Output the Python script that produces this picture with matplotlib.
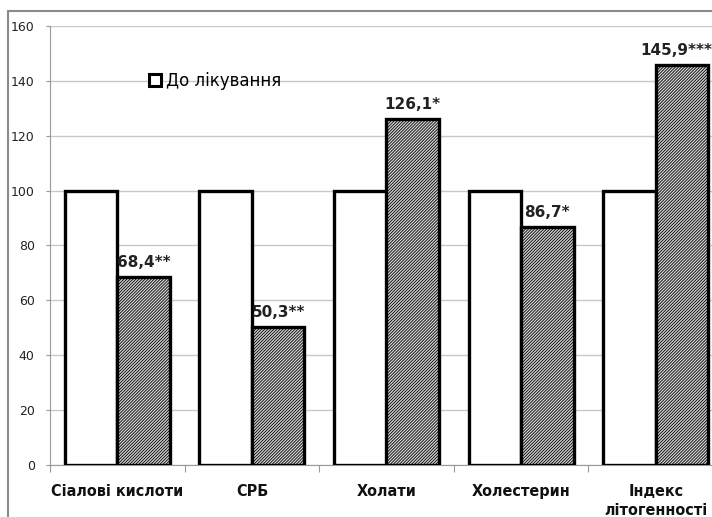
import matplotlib.pyplot as plt
import numpy as np
from matplotlib.patches import Rectangle

categories = ["Сіалові кислоти", "СРБ", "Холати", "Холестерин", "Індекс\nлітогенності"]
before = [100, 100, 100, 100, 100]
after = [68.4, 50.3, 126.1, 86.7, 145.9]
after_labels = ["68,4**", "50,3**", "126,1*", "86,7*", "145,9***"]
yticks = [0, 20, 40, 60, 80, 100, 120, 140, 160]

plt.rcParams['hatch.color'] = '#2a2a2a'
plt.rcParams['hatch.linewidth'] = 0.6

fig = plt.figure(figsize=(7.12, 5.17), dpi=100)
ax = fig.add_axes([50 / 712, 1 - 465 / 517, 673 / 712, (465 - 26) / 517])

x = np.arange(len(categories))
w = 0.39
ax.bar(x - w / 2, before, w, color='white', edgecolor='black', linewidth=2.4,
       label='До лікування', zorder=3)
ax.bar(x + w / 2, after, w, color='#d4d4d4', edgecolor='black', linewidth=2.4,
       hatch='/' * 11, zorder=3)

for i, (xi, v, t) in enumerate(zip(x, after, after_labels)):
    xt = xi + w / 2
    if i == len(after) - 1:
        xt -= 0.04  # keep the last label inside the figure
    ax.text(xt, v + 2.5, t, ha='center', va='bottom',
            fontsize=11, fontweight='bold', color='#222222')

ax.set_xlim(-0.5, len(categories) - 0.5)
ax.set_ylim(0, 160)
ax.set_yticks(yticks)
ax.set_yticklabels([str(t) for t in yticks], fontsize=9, color='#222222')
ax.yaxis.grid(True, color='#c8c8c8', linewidth=1)
ax.set_axisbelow(True)

ax.set_xticks(np.arange(len(categories) + 1) - 0.5)
ax.set_xticklabels([])
ax.tick_params(axis='x', length=5, color='#999999', direction='out')
ax.tick_params(axis='y', length=3, color='#999999', direction='out', pad=8)
for xi, c in zip(x, categories):
    ax.text(xi, -7, c, ha='center', va='top', fontsize=11.5, fontweight='bold',
            fontstretch='condensed', family='DejaVu Sans', color='#111111',
            linespacing=1.3)

for s in ['top', 'right']:
    ax.spines[s].set_visible(False)
ax.spines['left'].set_color('#999999')
ax.spines['bottom'].set_color('#999999')

leg = ax.legend(loc='upper left', bbox_to_anchor=(0.125, 0.93), frameon=False,
                fontsize=12, handlelength=0.7, handleheight=0.7, handletextpad=0.3)
for p in leg.get_patches():
    p.set_linewidth(2.2)

fig.patches.append(Rectangle((8 / 712, -0.1), 1.2, 1 - 11 / 517 + 0.1,
                             transform=fig.transFigure, fill=False,
                             edgecolor='#8a8a8a', linewidth=1.5))

fig.savefig('out.png', dpi=100)
